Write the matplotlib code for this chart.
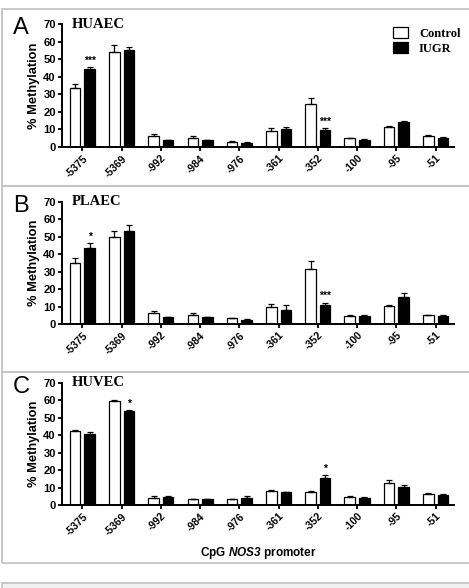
import matplotlib
matplotlib.use("Agg")
import matplotlib.pyplot as plt
import numpy as np
from matplotlib.patches import Rectangle

cpg_sites = ["-5375", "-5369", "-992", "-984", "-976", "-361", "-352", "-100", "-95", "-51"]

huaec_control = [33.7, 54.0, 6.1, 5.1, 3.0, 9.3, 24.3, 5.1, 11.6, 6.5]
huaec_control_err = [2.4, 4.0, 1.5, 1.2, 0.5, 1.5, 3.6, 0.3, 0.6, 0.4]
huaec_iugr = [44.5, 55.4, 3.8, 3.8, 2.5, 10.1, 9.9, 4.2, 14.1, 5.3]
huaec_iugr_err = [1.1, 1.7, 0.4, 0.3, 0.3, 1.3, 0.8, 0.3, 0.9, 0.3]
huaec_stars = {0: "***", 6: "***"}

plaec_control = [35.2, 49.8, 6.1, 5.4, 3.3, 9.6, 31.8, 4.6, 10.2, 5.0]
plaec_control_err = [2.5, 3.3, 1.5, 1.1, 0.4, 2.1, 4.4, 0.3, 0.6, 0.2]
plaec_iugr = [43.6, 53.2, 3.8, 4.0, 2.5, 8.1, 10.9, 4.4, 15.7, 4.6]
plaec_iugr_err = [2.6, 3.6, 0.4, 0.3, 0.3, 3.0, 1.3, 0.5, 2.3, 0.5]
plaec_stars = {0: "*", 6: "***"}

huvec_control = [42.2, 59.7, 4.0, 3.4, 3.4, 7.8, 7.4, 4.8, 12.4, 6.3]
huvec_control_err = [0.8, 0.4, 1.2, 0.3, 0.3, 1.0, 0.7, 0.4, 2.1, 0.6]
huvec_iugr = [40.5, 53.8, 4.8, 3.4, 3.8, 7.4, 15.6, 4.2, 10.3, 5.9]
huvec_iugr_err = [1.2, 0.8, 0.2, 0.3, 1.5, 0.3, 1.7, 0.3, 1.1, 0.3]
huvec_stars = {1: "*", 6: "*"}

panels = [
    ("A", "HUAEC", huaec_control, huaec_control_err, huaec_iugr, huaec_iugr_err, huaec_stars),
    ("B", "PLAEC", plaec_control, plaec_control_err, plaec_iugr, plaec_iugr_err, plaec_stars),
    ("C", "HUVEC", huvec_control, huvec_control_err, huvec_iugr, huvec_iugr_err, huvec_stars),
]

W, H = 469, 588
SANS = "Liberation Sans"
SERIF = "Liberation Serif"

plt.rcParams["mathtext.fontset"] = "custom"
plt.rcParams["mathtext.bfit"] = "Liberation Sans:bold:italic"

fig = plt.figure(figsize=(W / 100, H / 100), dpi=100)
fig.patch.set_facecolor("white")


def fy(py):
    return 1 - py / H


# panel frames (pixel top, bottom)
for top, bot in [(9, 186), (186, 372), (372, 563)]:
    fig.patches.append(Rectangle((2 / W, fy(bot)), 1.0, (bot - top) / H,
                                 transform=fig.transFigure, fill=False,
                                 edgecolor="#c4c4c4", lw=1.3))
fig.patches.append(Rectangle((2 / W, fy(600)), 1.0, (600 - 583) / H,
                             transform=fig.transFigure, facecolor="#f1f1f1",
                             edgecolor="#c4c4c4", lw=1.3))

axes_px = [(24, 147), (202, 324), (383, 505)]
left, right = 62, 454
x = np.arange(len(cpg_sites))
bw = 0.27
off = 0.186

for (letter, name, ctl, ctl_e, iugr, iugr_e, stars), (top, bot) in zip(panels, axes_px):
    ax = fig.add_axes([left / W, fy(bot), (right - left) / W, (bot - top) / H])
    ekw = dict(lw=0.9, capsize=2.2, capthick=0.9, ecolor="black")
    ax.bar(x - off, ctl, bw, color="white", edgecolor="black", lw=0.9,
           yerr=[np.zeros(len(ctl)), ctl_e], error_kw=ekw, label="Control", zorder=2)
    ax.bar(x + off, iugr, bw, color="black", edgecolor="black", lw=0.9,
           yerr=[np.zeros(len(iugr)), iugr_e], error_kw=ekw, label="IUGR", zorder=2)
    for i, s in stars.items():
        ax.text(x[i] + off, iugr[i] + iugr_e[i] + 0.8, s, ha="center", va="bottom",
                fontsize=7.5, fontweight="bold", family=SANS)
    ax.set_xlim(-0.52, 9.47)
    ax.set_ylim(0, 70)
    ax.set_yticks(range(0, 71, 10))
    ax.set_xticks(x)
    ax.set_xticklabels(cpg_sites, rotation=45, ha="right", rotation_mode="anchor")
    for lab in ax.get_xticklabels():
        lab.set_fontsize(7.5)
        lab.set_fontweight("bold")
        lab.set_family(SANS)
    for lab in ax.get_yticklabels():
        lab.set_fontsize(8)
        lab.set_fontweight("bold")
        lab.set_family(SANS)
    ax.tick_params(axis="both", length=3, width=1.3, pad=1.5)
    for sp in ("top", "right"):
        ax.spines[sp].set_visible(False)
    for sp in ("left", "bottom"):
        ax.spines[sp].set_linewidth(1.4)
    ax.set_ylabel("% Methylation", fontsize=9.3, fontweight="bold", family=SANS, labelpad=2)
    ax.text(0.026, 1.0, name, transform=ax.transAxes, fontsize=10.5, fontweight="bold",
            family=SERIF, va="center", ha="left")
    fig.text(13 / W, fy(top + 4), letter, fontsize=17, family=SANS, va="center", ha="left")
    if letter == "A":
        ax.legend(loc="upper right", bbox_to_anchor=(1.045, 1.065), frameon=False,
                  prop={"family": SERIF, "weight": "bold", "size": 9},
                  handlelength=1.2, handleheight=0.9, handletextpad=0.9,
                  labelspacing=0.2)
    if letter == "C":
        ax.set_xlabel(r"CpG $\bfit{NOS3}$ promoter", fontsize=8.5, fontweight="bold",
                      family=SANS, labelpad=6)

fig.savefig("out.png", dpi=100)
